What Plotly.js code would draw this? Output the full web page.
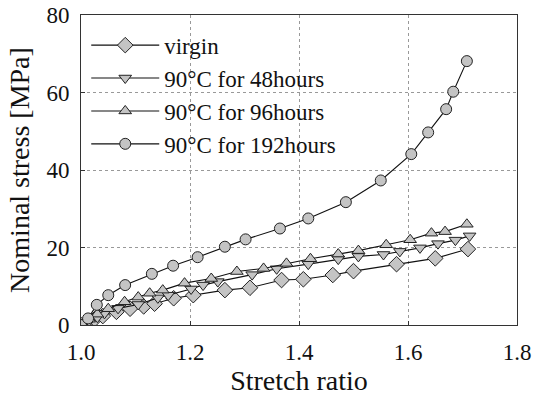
<!DOCTYPE html>
<html>
<head>
<meta charset="utf-8">
<script src="https://cdn.plot.ly/plotly-3.0.1.min.js"></script>
<style>
  html, body { margin: 0; padding: 0; background: #fff; }
  #chart { width: 534px; height: 399px; }
</style>
</head>
<body>
<div id="chart"></div>
<script>
// Stress–stretch curves for virgin and heat-aged specimens
const virginX = [1.0, 1.013, 1.025, 1.040, 1.065, 1.090, 1.115, 1.135, 1.170, 1.206, 1.264, 1.310, 1.368, 1.408, 1.462, 1.500, 1.579, 1.650, 1.710];
const virginY = [0, 0.8, 1.5, 2.3, 3.4, 4.2, 4.8, 5.5, 6.9, 7.7, 9.0, 9.6, 11.6, 11.8, 12.9, 13.9, 15.7, 17.2, 19.6];

const h48X = [1.0, 1.015, 1.030, 1.043, 1.068, 1.105, 1.141, 1.160, 1.202, 1.224, 1.251, 1.314, 1.359, 1.417, 1.472, 1.509, 1.555, 1.585, 1.622, 1.655, 1.687, 1.713];
const h48Y = [0, 1.0, 2.0, 3.0, 4.3, 5.3, 7.0, 7.7, 9.3, 10.3, 11.2, 13.0, 14.5, 15.7, 17.0, 17.7, 18.2, 19.0, 19.9, 21.0, 21.9, 23.0];

const h96X = [1.0, 1.015, 1.030, 1.050, 1.080, 1.105, 1.126, 1.150, 1.190, 1.239, 1.286, 1.335, 1.377, 1.421, 1.472, 1.509, 1.560, 1.604, 1.643, 1.668, 1.708];
const h96Y = [0, 1.5, 2.8, 4.2, 6.0, 7.2, 8.2, 9.0, 10.8, 12.0, 13.8, 14.6, 15.9, 17.1, 18.3, 19.2, 20.7, 22.0, 23.7, 24.1, 26.0];

const h192X = [1.0, 1.013, 1.029, 1.050, 1.081, 1.130, 1.169, 1.214, 1.264, 1.302, 1.365, 1.417, 1.486, 1.550, 1.606, 1.637, 1.670, 1.683, 1.708];
const h192Y = [0, 1.7, 5.2, 7.7, 10.3, 13.2, 15.3, 17.5, 20.2, 22.1, 24.9, 27.5, 31.7, 37.3, 44.1, 49.7, 55.7, 60.2, 68.1];

const seriesNames = ['virgin', '90°C for 48hours', '90°C for 96hours', '90°C for 192hours'];
const xTicks = [1.0, 1.2, 1.4, 1.6, 1.8];
const yTicks = [0, 20, 40, 60, 80];

const serif = 'Liberation Serif';
const markerFill = '#c4c4c4';
function trace(x, y, name, symbol, size) {
  return {
    x: x, y: y, name: name, type: 'scatter', mode: 'lines+markers',
    line: { color: '#111', width: 1.1 },
    marker: { symbol: symbol, size: size, color: markerFill, line: { color: '#222', width: 1 } }
  };
}

const data = [
  trace(virginX, virginY, seriesNames[0], 'diamond', 12),
  trace(h48X, h48Y, seriesNames[1], 'triangle-down', 11),
  trace(h96X, h96Y, seriesNames[2], 'triangle-up', 11),
  trace(h192X, h192Y, seriesNames[3], 'circle', 11)
];

const axisCommon = {
  showline: true, mirror: true, linecolor: '#333', linewidth: 1,
  showgrid: true, gridcolor: '#999', griddash: 'dot', gridwidth: 1,
  ticks: 'inside', ticklen: 4, tickcolor: '#333',
  zeroline: false,
  tickfont: { family: serif, size: 23, color: '#111' }
};

const layout = {
  width: 534, height: 399,
  margin: { l: 81, r: 17, t: 15, b: 74 },
  paper_bgcolor: '#fff', plot_bgcolor: '#fff',
  font: { family: serif, color: '#111' },
  showlegend: true,
  legend: {
    x: 0.012, y: 0.972, xanchor: 'left', yanchor: 'top',
    bgcolor: 'rgba(255,255,255,0)', borderwidth: 0,
    font: { family: serif, size: 23, color: '#111' },
    tracegroupgap: 0, itemwidth: 68
  },
  xaxis: Object.assign({}, axisCommon, {
    range: [1.0, 1.8], tickvals: xTicks, ticktext: xTicks.map(v => v.toFixed(1)),
    ticklabelstandoff: 6,
    title: { text: 'Stretch ratio', font: { size: 28, family: serif, color: '#111' }, standoff: 2 }
  }),
  yaxis: Object.assign({}, axisCommon, {
    range: [0, 80], tickvals: yTicks, ticktext: yTicks.map(String),
    ticklabelstandoff: 6,
    title: { text: 'Nominal stress [MPa]', font: { size: 28, family: serif, color: '#111' }, standoff: 8 }
  })
};

Plotly.newPlot('chart', data, layout, { staticPlot: true, displayModeBar: false });
</script>
</body>
</html>
